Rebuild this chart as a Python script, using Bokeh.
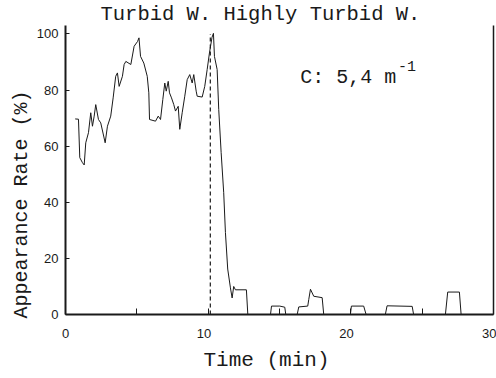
from bokeh.plotting import figure
from bokeh.models import FixedTicker, Label, Range1d, LinearAxis, Title
from bokeh.embed import file_html
from bokeh.resources import INLINE

# ---- data ----
time_min = [0.68, 0.91, 1.00, 1.19, 1.31, 1.42, 1.61, 1.77, 1.89, 2.01, 2.12, 2.31, 2.47,
            2.78, 2.94, 3.17, 3.34, 3.52, 3.64, 3.76, 3.99, 4.11, 4.23, 4.58, 4.81, 5.05,
            5.15, 5.26, 5.49, 5.73, 5.84, 5.89, 6.31, 6.50, 6.66, 6.82, 6.96, 7.06, 7.20,
            7.29, 7.43, 7.59, 7.71, 7.90, 8.01, 8.18, 8.36, 8.53, 8.71, 8.88, 8.99, 9.16,
            9.23, 9.58, 9.76, 9.93, 10.09, 10.27, 10.37, 10.44, 10.63, 10.74, 10.91, 11.09,
            11.21, 11.37, 11.56, 11.68, 11.79, 11.91, 12.68, 12.78,
            14.37, 14.44, 15.02, 15.37, 15.44,
            16.24, 16.35, 16.98, 17.05, 17.17, 17.40, 17.99, 18.10,
            19.97, 20.04, 20.90, 21.07,
            22.42, 22.54, 24.30, 24.40,
            26.63, 26.79, 27.61, 27.73, 30.0]
rate_pct = [69.7, 69.6, 55.9, 54.1, 53.3, 61.2, 64.8, 71.9, 67.1, 70.7, 74.8, 69.5, 68.3,
            61.2, 67.1, 70.7, 77.2, 84.9, 86.1, 81.3, 84.9, 89.1, 90.2, 89.1, 95.6, 97.3,
            98.6, 92.0, 89.6, 84.9, 79.0, 69.5, 68.9, 70.7, 69.5, 76.6, 82.5, 79.6, 83.1,
            79.0, 77.2, 74.8, 72.5, 74.2, 66.0, 71.9, 77.8, 83.7, 85.5, 82.5, 85.5, 79.6,
            77.8, 77.5, 81.3, 87.3, 93.2, 98.8, 100.2, 92.0, 87.3, 73.1, 57.7, 43.4,
            29.2, 16.2, 9.5, 5.9, 10.0, 8.8, 8.8, 0.0,
            0.0, 3.0, 3.0, 2.6, 0.0,
            0.0, 2.7, 3.0, 5.3, 9.0, 6.5, 6.0, 0.0,
            0.0, 3.0, 3.0, 0.0,
            0.0, 3.1, 2.9, 0.0,
            0.0, 8.0, 8.0, 0.0, 0.0]
boundary_time = [10.15]
boundary_low = [0.0]
boundary_high = [100.0]
x_tick_values = [0.3, 10, 20, 30]          # label anchors (labels sit a bit left)
x_tick_labels = ["0", "10", "20", "30"]
x_minor_ticks = [0, 5, 10, 15, 20, 25, 30]
y_tick_values = [0, 20, 40, 60, 80, 100]
region_text = "Turbid W. Highly Turbid W."
coef_text = "C: 5,4 m"
coef_exp = "-1"
x_label = "Time (min)"
y_label = "Appearance Rate (%)"

MONO = "Liberation Mono"
SANS = "Liberation Sans"
INK = "#1a1a1a"

p = figure(width=496, height=378, output_backend="svg", toolbar_location=None,
           title=None, x_range=Range1d(0, 30), y_range=Range1d(0, 103.0),
           min_border_left=65, min_border_right=3, min_border_top=21,
           min_border_bottom=64)
p.outline_line_color = None
p.grid.visible = False
p.background_fill_color = "white"
p.border_fill_color = "white"
p.extra_x_ranges = {"lab": Range1d(0.3, 30.3)}

# left axis
p.yaxis.ticker = FixedTicker(ticks=y_tick_values)
p.yaxis.major_tick_in = 4
p.yaxis.major_tick_out = 0
p.yaxis.minor_tick_line_color = None
p.yaxis.axis_line_width = 2
p.yaxis.axis_line_color = INK
p.yaxis.major_tick_line_color = INK
p.yaxis.major_label_standoff = 7
p.yaxis.major_label_text_font = SANS
p.yaxis.major_label_text_font_size = "13px"
p.yaxis.major_label_text_color = INK

# bottom axis: ticks only
p.xaxis.ticker = FixedTicker(ticks=x_minor_ticks)
p.xaxis.major_label_overrides = {v: "" for v in x_minor_ticks}
p.xaxis.major_label_standoff = 4
p.xaxis.major_tick_in = 6
p.xaxis.major_tick_out = 0
p.xaxis.minor_tick_line_color = None
p.xaxis.axis_line_width = 2
p.xaxis.axis_line_color = INK
p.xaxis.major_tick_line_color = INK

# bottom labels, slightly shifted left as in the reference
lab_axis = LinearAxis(x_range_name="lab", ticker=FixedTicker(ticks=x_tick_values),
                      major_label_overrides=dict(zip(x_tick_values, x_tick_labels)),
                      axis_line_color=None, major_tick_line_color=None,
                      minor_tick_line_color=None, major_tick_in=0, major_tick_out=0,
                      major_label_standoff=14, major_label_text_font=SANS,
                      major_label_text_font_size="13px", major_label_text_color=INK)
p.add_layout(lab_axis, "below")

# right frame edge (plain line, no ticks or labels)
right_axis = LinearAxis(ticker=FixedTicker(ticks=[]), axis_line_color=INK,
                        axis_line_width=1.5, major_tick_line_color=None,
                        minor_tick_line_color=None, major_tick_in=0, major_tick_out=0,
                        major_label_standoff=0)
p.add_layout(right_axis, "right")

# data
p.line(time_min, rate_pct, line_width=1, color=INK)
p.segment(x0=boundary_time, y0=boundary_low, x1=boundary_time, y1=boundary_high,
          line_dash="4 3", line_width=1.2, color=INK)

# titles outside the frame
p.add_layout(Title(text=region_text, align="left", offset=35, standoff=0,
                   text_font=MONO, text_font_size="20.5px", text_font_style="normal",
                   text_color=INK), "above")
p.add_layout(Title(text=x_label, align="left", offset=138, standoff=12,
                   text_font=MONO, text_font_size="21px", text_font_style="normal",
                   text_color=INK), "below")
p.add_layout(Title(text=y_label, align="left", offset=-4, standoff=2,
                   text_font=MONO, text_font_size="20px", text_font_style="normal",
                   text_color=INK), "left")

# coefficient annotation (inside the frame)
p.add_layout(Label(x=16.45, y=84.6, text=coef_text, text_align="left",
                   text_baseline="middle", text_font=MONO, text_font_size="20px",
                   text_color=INK))
p.add_layout(Label(x=23.3, y=88.4, text=coef_exp, text_align="left",
                   text_baseline="middle", text_font=MONO, text_font_size="15px",
                   text_color=INK))

open("out.html", "w").write(file_html(p, INLINE))
